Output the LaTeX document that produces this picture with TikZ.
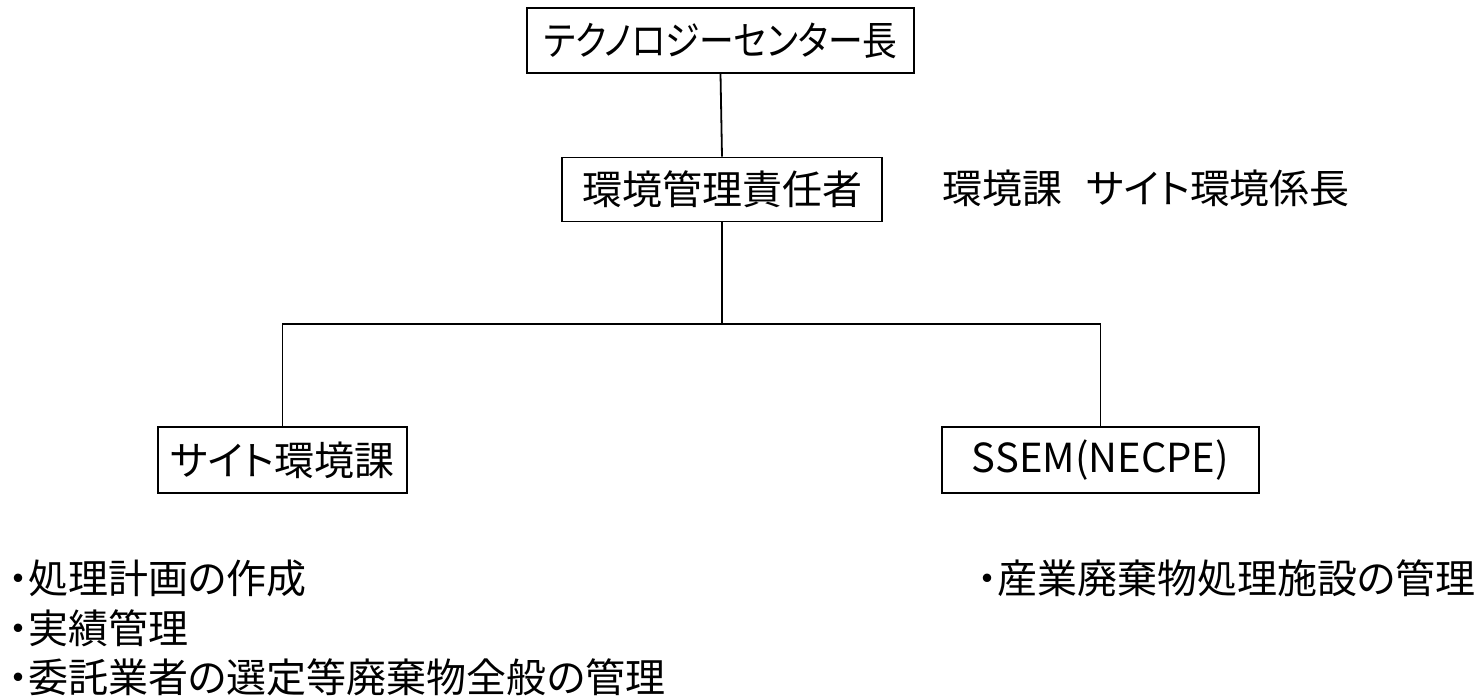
\documentclass[tikz,border=0pt]{standalone}
\usepackage{fontspec}
\setmainfont{Noto Sans CJK JP}[RawFeature=+palt]
\begin{document}
\begin{tikzpicture}[x=1pt,y=-1pt,
  box/.style={draw,line width=1.6pt,inner sep=0pt,font=\fontsize{40}{46}\selectfont},
  lbl/.style={inner sep=0pt,font=\fontsize{40}{46}\selectfont},
  conn/.style={line width=1.4pt}]
\useasboundingbox (0,0) rectangle (1482,699);
\node[box,minimum width=387pt,minimum height=65pt] (top) at (720.5,40.5) {\scalebox{0.87}[1]{テクノロジーセンター長}};
\node[box,minimum width=320pt,minimum height=64pt] (mid) at (722,189.5) {環境管理責任者};
\node[box,minimum width=249pt,minimum height=66pt] (left) at (282.5,460) {サイト環境課};
\node[box,minimum width=317pt,minimum height=66pt] (right) at (1100.5,460) {SSEM(NECPE)};
\coordinate (j) at (722,324);
\draw[conn,line width=1.8pt] (top.south) -- (mid.north);
\draw[conn] (mid.south) -- (j);
\draw[conn] (left.north) |- (j) -| (right.north);
\node[lbl,anchor=west] (note) at (942,188) {環境課\hspace{24pt}サイト環境係長};
\node[lbl,anchor=west] (l1) at (8,578) {・処理計画の作成};
\node[lbl,anchor=west] (l2) at (8,628) {・実績管理};
\node[lbl,anchor=west] (l3) at (8,677) {・委託業者の選定等廃棄物全般の管理};
\node[lbl,anchor=east] (r1) at (1476,578) {・産業廃棄物処理施設の管理};
\end{tikzpicture}
\end{document}
